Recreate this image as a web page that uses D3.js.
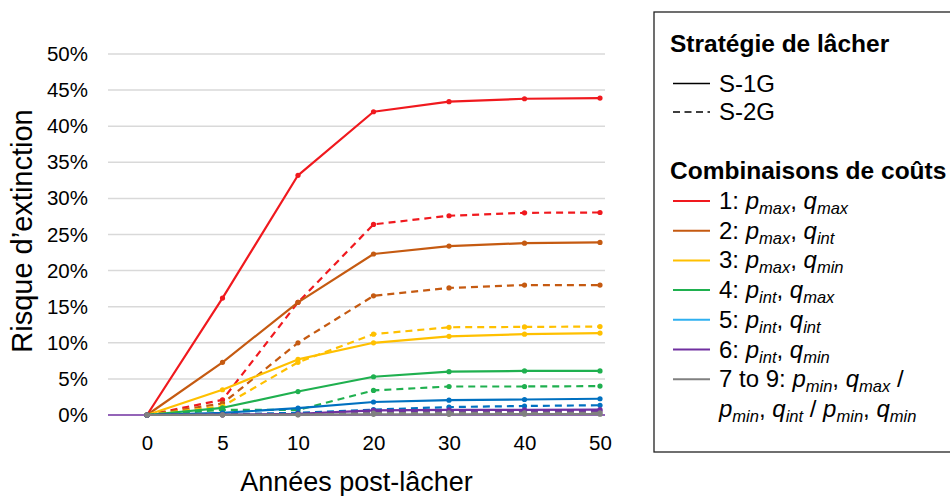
<!DOCTYPE html>
<html><head><meta charset="utf-8">
<script src="https://cdn.jsdelivr.net/npm/d3@7"></script>
<style>
html,body{margin:0;padding:0;background:#fff;}
svg{display:block;font-family:"Liberation Sans",Arial,sans-serif;}
</style></head>
<body><svg id="chart" width="950" height="496"></svg>
<script>
const years = ["0","5","10","20","30","40","50"];
const yTicks = [0,5,10,15,20,25,30,35,40,45,50];
const comboColors = ["#f0191e","#c55a11","#ffc000","#1fb04f","#0070c0","#7030a0","#808080"];
const legendColors = ["#f0191e","#c55a11","#ffc000","#1fb04f","#2fb0f0","#7030a0","#808080"];
// S-1G (solid)
const s1_c1 = [0,16.2,33.2,42.0,43.4,43.8,43.9];
const s1_c2 = [0,7.3,15.6,22.3,23.4,23.8,23.9];
const s1_c3 = [0,3.5,7.7,10.0,10.9,11.2,11.35];
const s1_c4 = [0,1.0,3.25,5.3,6.0,6.1,6.1];
const s1_c5 = [0,0.3,0.95,1.8,2.05,2.15,2.25];
const s1_c6 = [0,0.05,0.15,0.65,0.7,0.72,0.75];
const s1_c7 = [0,0.02,0.05,0.1,0.1,0.12,0.12];
// S-2G (dashed)
const s2_c1 = [0,2.1,15.6,26.4,27.6,28.0,28.05];
const s2_c2 = [0,1.6,10.0,16.5,17.6,18.0,18.0];
const s2_c3 = [0,1.2,7.3,11.2,12.15,12.2,12.25];
const s2_c4 = [0,0.7,0.7,3.4,3.95,3.95,4.0];
const s2_c5 = [0,0.1,0.3,0.75,1.1,1.25,1.35];
const s2_c6 = [0,0.03,0.1,0.45,0.5,0.55,0.55];
const s2_c7 = [0,0.01,0.03,0.25,0.3,0.3,0.3];

const strategyLabels = ["S-1G","S-2G"];
// segments: [text, style] n=normal, i=italic, s=italic subscript
const comboLabels = [
  [["1: ","n"],["p","i"],["max","s"],[", ","n"],["q","i"],["max","s"]],
  [["2: ","n"],["p","i"],["max","s"],[", ","n"],["q","i"],["int","s"]],
  [["3: ","n"],["p","i"],["max","s"],[", ","n"],["q","i"],["min","s"]],
  [["4: ","n"],["p","i"],["int","s"],[", ","n"],["q","i"],["max","s"]],
  [["5: ","n"],["p","i"],["int","s"],[", ","n"],["q","i"],["int","s"]],
  [["6: ","n"],["p","i"],["int","s"],[", ","n"],["q","i"],["min","s"]],
  [["7 to 9: ","n"],["p","i"],["min","s"],[", ","n"],["q","i"],["max","s"],[" /","n"]]
];
const comboLabelLine2 = [["p","i"],["min","s"],[", ","n"],["q","i"],["int","s"],[" / ","n"],["p","i"],["min","s"],[", ","n"],["q","i"],["min","s"]];

const solidSeries = [s1_c1,s1_c2,s1_c3,s1_c4,s1_c5,s1_c6,s1_c7];
const dashedSeries = [s2_c1,s2_c2,s2_c3,s2_c4,s2_c5,s2_c6,s2_c7];

const svg = d3.select("#chart");
const x = d3.scalePoint().domain(years).range([147,600]);
const y = d3.scaleLinear().domain([0,50]).range([415,54]);
const gridL = 108, gridR = 605;

// gridlines
svg.append("g").selectAll("line").data(yTicks.slice(1)).join("line")
  .attr("x1",gridL).attr("x2",gridR)
  .attr("y1",d=>y(d)).attr("y2",d=>y(d))
  .attr("stroke","#d9d9d9").attr("stroke-width",1.5);

// y axis labels
const ya = svg.append("g").attr("transform",`translate(${gridL},0)`)
  .call(d3.axisLeft(y).tickValues(yTicks).tickSize(0).tickPadding(20).tickFormat(d=>d+"%"));
ya.select(".domain").remove();
ya.selectAll("text").attr("font-size",20.5).attr("fill","#000").attr("font-family","Liberation Sans, Arial, sans-serif");

// x axis
const xa = svg.append("g").attr("transform",`translate(0,${y(0)})`)
  .call(d3.axisBottom(x).tickSize(0).tickPadding(20));
xa.select(".domain").remove();
xa.selectAll("text").attr("font-size",20.5).attr("fill","#000").attr("font-family","Liberation Sans, Arial, sans-serif");
svg.append("line").attr("x1",gridL).attr("x2",gridR).attr("y1",y(0)).attr("y2",y(0))
  .attr("stroke","#7030a0").attr("stroke-width",1.5);

// axis titles
svg.append("text").attr("x",(gridL+gridR)/2).attr("y",491).attr("text-anchor","middle")
  .attr("font-size",27).text("Années post-lâcher");
svg.append("text").attr("transform","translate(32,231) rotate(-90)").attr("text-anchor","middle")
  .attr("font-size",29).text("Risque d’extinction");

const line = d3.line().x((d,i)=>x(years[i])).y(d=>y(d));
function drawSeries(vals,color,dashed){
  const g = svg.append("g");
  g.append("path").attr("d",line(vals)).attr("fill","none").attr("stroke",color)
    .attr("stroke-width",2.2).attr("stroke-dasharray",dashed?"7,5":null).attr("stroke-linejoin","round");
  g.selectAll("circle").data(vals).join("circle")
    .attr("cx",(d,i)=>x(years[i])).attr("cy",d=>y(d)).attr("r",2.6).attr("fill",color);
}
for(let k=0;k<7;k++){
  drawSeries(solidSeries[k],comboColors[k],false);
  drawSeries(dashedSeries[k],comboColors[k],true);
}

// legend
const lg = svg.append("g");
lg.append("rect").attr("x",654).attr("y",12).attr("width",320).attr("height",440)
  .attr("fill","#fff").attr("stroke","#222").attr("stroke-width",1.3);
lg.append("text").attr("x",670).attr("y",52).attr("font-size",24.5).attr("font-weight","bold").text("Stratégie de lâcher");
strategyLabels.forEach((s,i)=>{
  const yy = 83.5 + i*28.5;
  lg.append("line").attr("x1",673).attr("x2",710).attr("y1",yy).attr("y2",yy)
    .attr("stroke","#000").attr("stroke-width",1.5).attr("stroke-dasharray",i?"7,4.5":null);
  lg.append("text").attr("x",719).attr("y",yy+8).attr("font-size",24).text(s);
});
lg.append("text").attr("x",670).attr("y",179).attr("font-size",24.5).attr("font-weight","bold").text("Combinaisons de coûts");

function writeSegs(t,segs){
  let sub=false;
  segs.forEach(([txt,st])=>{
    const ts = t.append("tspan").text(txt);
    if(st==="i"||st==="s") ts.attr("font-style","italic");
    if(st==="s"){ ts.attr("font-size",16.5); if(!sub){ts.attr("dy",5); sub=true;} }
    else if(sub){ ts.attr("dy",-5); sub=false; }
  });
}
comboLabels.forEach((segs,i)=>{
  const yy = 201 + i*29.7;
  lg.append("line").attr("x1",673).attr("x2",710).attr("y1",yy).attr("y2",yy)
    .attr("stroke",legendColors[i]).attr("stroke-width",2);
  const t = lg.append("text").attr("x",719).attr("y",yy+8).attr("font-size",24);
  writeSegs(t,segs);
});
const t2 = lg.append("text").attr("x",719).attr("y",201+6*29.7+38).attr("font-size",24);
writeSegs(t2,comboLabelLine2);
</script></body></html>
